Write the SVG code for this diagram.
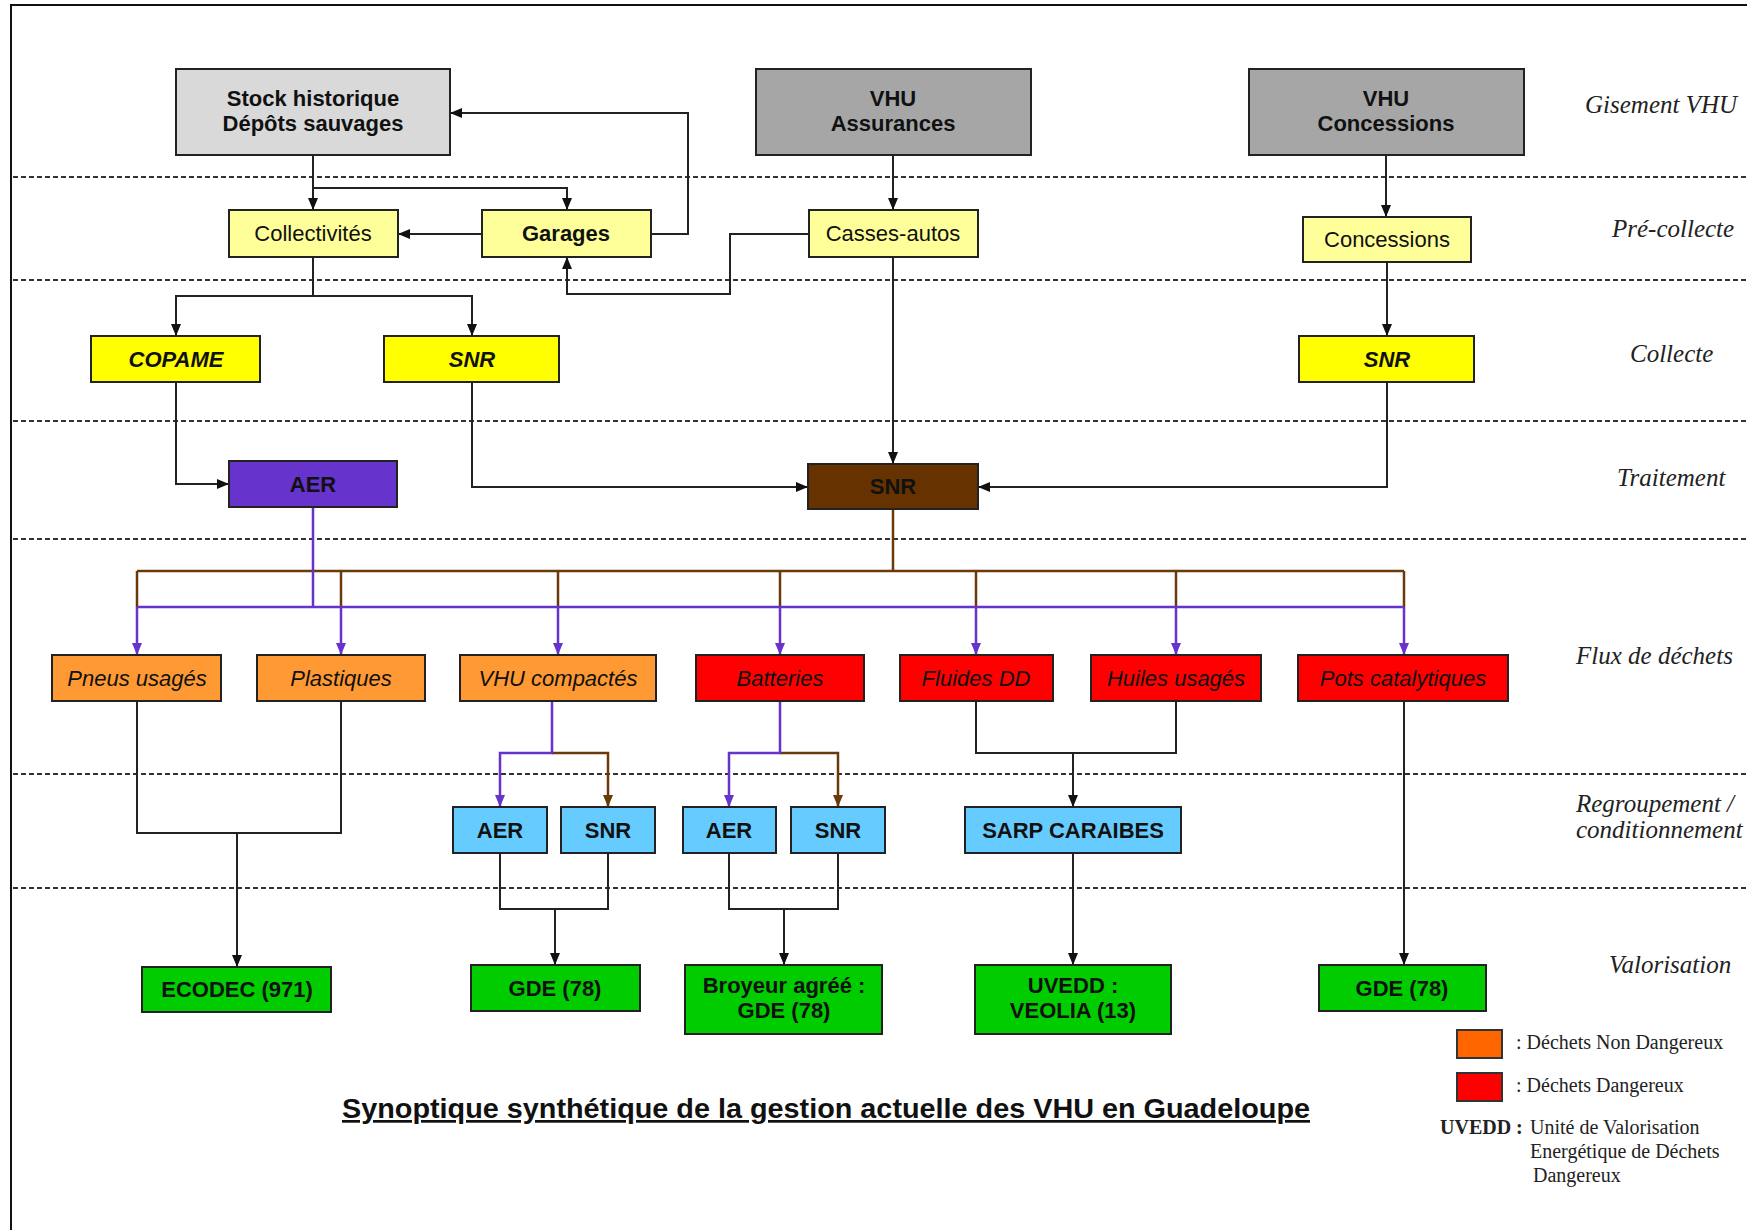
<svg xmlns="http://www.w3.org/2000/svg" width="1747" height="1230" viewBox="0 0 1747 1230">
<style>
.bx{stroke:#222;stroke-width:2}
.t{font-family:"Liberation Sans",Arial,sans-serif;font-size:22px;text-anchor:middle;fill:#111}
.bd{font-weight:bold}
.it{font-style:italic}
.lbl{font-family:"Liberation Serif","Times New Roman",serif;font-style:italic;font-size:25px;fill:#222}
.lg{font-family:"Liberation Serif","Times New Roman",serif;font-size:20px;fill:#222}
.dash{stroke:#333;stroke-width:2;stroke-dasharray:5 3;fill:none}
.c{fill:none;stroke:#222;stroke-width:2}
.cp{fill:none;stroke:#6633cc;stroke-width:2.5}
.cb{fill:none;stroke:#6b3a0a;stroke-width:2.5}
</style>
<defs>
<marker id="ak" viewBox="0 0 12 10" refX="12" refY="5" markerWidth="12" markerHeight="10" markerUnits="userSpaceOnUse" orient="auto"><path d="M0,0 L12,5 L0,10 z" fill="#111"/></marker>
<marker id="ap" viewBox="0 0 12 10" refX="12" refY="5" markerWidth="12" markerHeight="10" markerUnits="userSpaceOnUse" orient="auto"><path d="M0,0 L12,5 L0,10 z" fill="#6633cc"/></marker>
<marker id="ab" viewBox="0 0 12 10" refX="12" refY="5" markerWidth="12" markerHeight="10" markerUnits="userSpaceOnUse" orient="auto"><path d="M0,0 L12,5 L0,10 z" fill="#6b3a0a"/></marker>
</defs>
<rect x="0" y="0" width="1747" height="1230" fill="#fff"/>
<rect x="11" y="5" width="1760" height="1240" fill="none" stroke="#111" stroke-width="2"/>
<g id="lanes">
<line class="dash" x1="13" y1="177" x2="1747" y2="177"/>
<line class="dash" x1="13" y1="280" x2="1747" y2="280"/>
<line class="dash" x1="13" y1="421" x2="1747" y2="421"/>
<line class="dash" x1="13" y1="539" x2="1747" y2="539"/>
<line class="dash" x1="13" y1="774" x2="1747" y2="774"/>
<line class="dash" x1="13" y1="888" x2="1747" y2="888"/>
</g>
<g id="lane-labels">
<text class="lbl" x="1585" y="113">Gisement VHU</text>
<text class="lbl" x="1612" y="237">Pré-collecte</text>
<text class="lbl" x="1630" y="362">Collecte</text>
<text class="lbl" x="1617" y="486">Traitement</text>
<text class="lbl" x="1576" y="664">Flux de déchets</text>
<text class="lbl" x="1576" y="812">Regroupement /</text>
<text class="lbl" x="1576" y="838">conditionnement</text>
<text class="lbl" x="1609" y="973">Valorisation</text>
</g>
<g id="connectors">
<path class="c" d="M313,155 V210" marker-end="url(#ak)"/>
<path class="c" d="M313,188 H567 V210" marker-end="url(#ak)"/>
<path class="c" d="M651,234 H688 V113 H450" marker-end="url(#ak)"/>
<path class="c" d="M482,234 H398" marker-end="url(#ak)"/>
<path class="c" d="M809,234 H730 V294 H567 V257" marker-end="url(#ak)"/>
<path class="c" d="M313,257 V296 H176 V336" marker-end="url(#ak)"/>
<path class="c" d="M313,296 H472 V336" marker-end="url(#ak)"/>
<path class="c" d="M893,155 V210" marker-end="url(#ak)"/>
<path class="c" d="M893,257 V464" marker-end="url(#ak)"/>
<path class="c" d="M1386,155 V217" marker-end="url(#ak)"/>
<path class="c" d="M1387,262 V336" marker-end="url(#ak)"/>
<path class="c" d="M1387,382 V487 H978" marker-end="url(#ak)"/>
<path class="c" d="M176,382 V484 H229" marker-end="url(#ak)"/>
<path class="c" d="M472,382 V487 H808" marker-end="url(#ak)"/>
<path class="cb" d="M893,509 V571 M137,571 H1404 M137,571 V607 M341,571 V607 M558,571 V607 M780,571 V607 M976,571 V607 M1176,571 V607 M1404,571 V607"/>
<path class="cp" d="M313,507 V607 M137,607 H1404"/>
<path class="cp" d="M137,607 V655" marker-end="url(#ap)"/>
<path class="cp" d="M341,607 V655" marker-end="url(#ap)"/>
<path class="cp" d="M558,607 V655" marker-end="url(#ap)"/>
<path class="cp" d="M780,607 V655" marker-end="url(#ap)"/>
<path class="cp" d="M976,607 V655" marker-end="url(#ap)"/>
<path class="cp" d="M1176,607 V655" marker-end="url(#ap)"/>
<path class="cp" d="M1404,607 V655" marker-end="url(#ap)"/>
<path class="cb" d="M552,753 H608 V807" marker-end="url(#ab)"/>
<path class="cp" d="M552,701 V753 H500 V807" marker-end="url(#ap)"/>
<path class="cb" d="M780,753 H838 V807" marker-end="url(#ab)"/>
<path class="cp" d="M780,701 V753 H729 V807" marker-end="url(#ap)"/>
<path class="c" d="M976,701 V753 H1176 V701"/>
<path class="c" d="M1073,753 V807" marker-end="url(#ak)"/>
<path class="c" d="M1404,701 V965" marker-end="url(#ak)"/>
<path class="c" d="M137,701 V833 H341 V701"/>
<path class="c" d="M237,833 V967" marker-end="url(#ak)"/>
<path class="c" d="M500,853 V909 H608 V853"/>
<path class="c" d="M555,909 V965" marker-end="url(#ak)"/>
<path class="c" d="M729,853 V909 H838 V853"/>
<path class="c" d="M784,909 V965" marker-end="url(#ak)"/>
<path class="c" d="M1073,853 V965" marker-end="url(#ak)"/>
</g>
<g id="n-stock"><rect class="bx" x="176" y="69" width="274" height="86" fill="#d9d9d9"/><text class="t bd" x="313" y="106">Stock historique</text><text class="t bd" x="313" y="131">Dépôts sauvages</text></g>
<g id="n-vhu-assurances"><rect class="bx" x="756" y="69" width="275" height="86" fill="#a6a6a6"/><text class="t bd" x="893" y="106">VHU</text><text class="t bd" x="893" y="131">Assurances</text></g>
<g id="n-vhu-concessions"><rect class="bx" x="1249" y="69" width="275" height="86" fill="#a6a6a6"/><text class="t bd" x="1386" y="106">VHU</text><text class="t bd" x="1386" y="131">Concessions</text></g>
<g id="n-collectivites"><rect class="bx" x="229" y="210" width="169" height="47" fill="#ffff99"/><text class="t" x="313" y="241">Collectivités</text></g>
<g id="n-garages"><rect class="bx" x="482" y="210" width="169" height="47" fill="#ffff99"/><text class="t bd" x="566" y="241">Garages</text></g>
<g id="n-casses"><rect class="bx" x="809" y="210" width="169" height="47" fill="#ffff99"/><text class="t" x="893" y="241">Casses-autos</text></g>
<g id="n-concessions"><rect class="bx" x="1303" y="217" width="168" height="45" fill="#ffff99"/><text class="t" x="1387" y="247">Concessions</text></g>
<g id="n-copame"><rect class="bx" x="91" y="336" width="169" height="46" fill="#ffff00"/><text class="t bd it" x="176" y="367">COPAME</text></g>
<g id="n-snr-collecte1"><rect class="bx" x="384" y="336" width="175" height="46" fill="#ffff00"/><text class="t bd it" x="472" y="367">SNR</text></g>
<g id="n-snr-collecte2"><rect class="bx" x="1299" y="336" width="175" height="46" fill="#ffff00"/><text class="t bd it" x="1387" y="367">SNR</text></g>
<g id="n-aer"><rect class="bx" x="229" y="461" width="168" height="46" fill="#6633cc"/><text class="t bd" x="313" y="492">AER</text></g>
<g id="n-snr-traitement"><rect class="bx" x="808" y="464" width="170" height="45" fill="#663300"/><text class="t bd" x="893" y="494">SNR</text></g>
<g id="n-pneus"><rect class="bx" x="52" y="655" width="169" height="46" fill="#ff9933"/><text class="t it" x="137" y="686">Pneus usagés</text></g>
<g id="n-plastiques"><rect class="bx" x="257" y="655" width="168" height="46" fill="#ff9933"/><text class="t it" x="341" y="686">Plastiques</text></g>
<g id="n-vhu-compactes"><rect class="bx" x="460" y="655" width="196" height="46" fill="#ff9933"/><text class="t it" x="558" y="686">VHU compactés</text></g>
<g id="n-batteries"><rect class="bx" x="696" y="655" width="168" height="46" fill="#ff0000"/><text class="t it" x="780" y="686">Batteries</text></g>
<g id="n-fluides"><rect class="bx" x="900" y="655" width="153" height="46" fill="#ff0000"/><text class="t it" x="976" y="686">Fluides DD</text></g>
<g id="n-huiles"><rect class="bx" x="1091" y="655" width="170" height="46" fill="#ff0000"/><text class="t it" x="1176" y="686">Huiles usagés</text></g>
<g id="n-pots"><rect class="bx" x="1298" y="655" width="210" height="46" fill="#ff0000"/><text class="t it" x="1403" y="686">Pots catalytiques</text></g>
<g id="n-aer-r1"><rect class="bx" x="453" y="807" width="94" height="46" fill="#66ccff"/><text class="t bd" x="500" y="838">AER</text></g>
<g id="n-snr-r1"><rect class="bx" x="561" y="807" width="94" height="46" fill="#66ccff"/><text class="t bd" x="608" y="838">SNR</text></g>
<g id="n-aer-r2"><rect class="bx" x="683" y="807" width="93" height="46" fill="#66ccff"/><text class="t bd" x="729" y="838">AER</text></g>
<g id="n-snr-r2"><rect class="bx" x="791" y="807" width="94" height="46" fill="#66ccff"/><text class="t bd" x="838" y="838">SNR</text></g>
<g id="n-sarp"><rect class="bx" x="965" y="807" width="216" height="46" fill="#66ccff"/><text class="t bd" x="1073" y="838">SARP CARAIBES</text></g>
<g id="n-ecodec"><rect class="bx" x="142" y="967" width="189" height="45" fill="#00cc00"/><text class="t bd" x="237" y="997">ECODEC (971)</text></g>
<g id="n-gde1"><rect class="bx" x="471" y="965" width="169" height="46" fill="#00cc00"/><text class="t bd" x="555" y="996">GDE (78)</text></g>
<g id="n-broyeur"><rect class="bx" x="685" y="965" width="197" height="69" fill="#00cc00"/><text class="t bd" x="784" y="993">Broyeur agréé :</text><text class="t bd" x="784" y="1018">GDE (78)</text></g>
<g id="n-uvedd"><rect class="bx" x="975" y="965" width="196" height="69" fill="#00cc00"/><text class="t bd" x="1073" y="993">UVEDD :</text><text class="t bd" x="1073" y="1018">VEOLIA (13)</text></g>
<g id="n-gde2"><rect class="bx" x="1319" y="965" width="167" height="46" fill="#00cc00"/><text class="t bd" x="1402" y="996">GDE (78)</text></g>
<g id="title"><text x="342" y="1118" font-family="Liberation Sans, Arial, sans-serif" font-size="27" font-weight="bold" text-decoration="underline" fill="#111" textLength="968" lengthAdjust="spacingAndGlyphs">Synoptique synthétique de la gestion actuelle des VHU en Guadeloupe</text></g>
<g id="legend">
<rect x="1457" y="1030" width="45" height="28" fill="#ff6600" stroke="#333" stroke-width="2"/>
<rect x="1457" y="1073" width="45" height="28" fill="#ff0000" stroke="#333" stroke-width="2"/>
<text class="lg" x="1516" y="1049">: Déchets Non Dangereux</text>
<text class="lg" x="1516" y="1092">: Déchets Dangereux</text>
<text class="lg" x="1440" y="1134" font-weight="bold">UVEDD :</text>
<text class="lg" x="1530" y="1134">Unité de Valorisation</text>
<text class="lg" x="1530" y="1158">Energétique de Déchets</text>
<text class="lg" x="1533" y="1182">Dangereux</text>
</g>
</svg>
